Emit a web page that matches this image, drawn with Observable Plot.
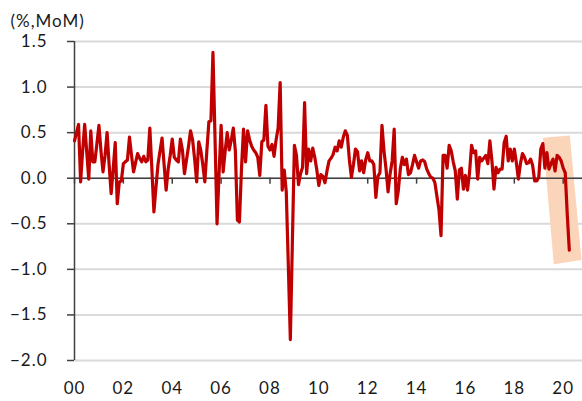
<!DOCTYPE html>
<html><head><meta charset="utf-8">
<script src="https://cdn.jsdelivr.net/npm/d3@7"></script>
<script src="https://cdn.jsdelivr.net/npm/@observablehq/plot@0.6"></script>
<style>
html,body{margin:0;padding:0;background:#fff;}
#chart{width:582px;height:401px;}
svg{display:block}
</style></head><body><div id="chart"></div>
<script>
const startYear = 2000;
// monthly % change, Jan 2000 .. Apr 2020
const cpiMoM = [
  0.41, 0.50, 0.59, -0.04, 0.30, 0.59, 0.29, -0.01, 0.52, 0.18, 0.18, 0.38,
  0.58, 0.30, 0.07, 0.25, 0.50, 0.15, -0.17, 0.10, 0.39, -0.28, -0.04, -0.03,
  0.16, 0.18, 0.20, 0.45, 0.25, 0.07, 0.17, 0.27, 0.22, 0.18, 0.24, 0.18,
  0.20, 0.55, 0.10, -0.37, -0.10, 0.15, 0.30, 0.44, 0.15, -0.13, 0.10, 0.25,
  0.43, 0.23, 0.20, 0.18, 0.43, 0.31, 0.05, 0.20, 0.35, 0.52, 0.42, 0.21,
  -0.04, 0.40, 0.31, 0.15, -0.04, 0.30, 0.62, 0.63, 1.38, 0.45, -0.50, 0.05,
  0.58, 0.07, 0.30, 0.50, 0.31, 0.42, 0.55, 0.30, -0.46, -0.48, 0.10, 0.54,
  0.18, 0.52, 0.42, 0.35, 0.31, 0.28, 0.23, 0.03, 0.40, 0.42, 0.80, 0.35,
  0.31, 0.37, 0.24, 0.42, 0.55, 1.05, -0.13, 0.09, -0.15, -0.95, -1.77, -0.70,
  0.36, 0.25, -0.07, 0.05, 0.12, 0.83, 0.05, 0.32, 0.19, 0.33, 0.23, 0.09,
  -0.08, 0.04, 0.02, -0.05, 0.08, 0.19, 0.22, 0.26, 0.34, 0.30, 0.41, 0.34,
  0.45, 0.52, 0.47, 0.20, 0.01, 0.15, 0.32, 0.29, 0.08, 0.19, 0.06, 0.20,
  0.28, 0.19, 0.19, 0.15, -0.21, 0.02, 0.06, 0.58, 0.30, 0.10, -0.15, 0.05,
  0.19, 0.54, -0.28, -0.14, 0.10, 0.23, 0.15, 0.21, 0.04, 0.06, 0.15, 0.25,
  0.18, 0.11, 0.19, 0.20, 0.18, 0.10, 0.05, 0.01, 0.00, -0.05, -0.20, -0.35,
  -0.63, 0.25, 0.25, 0.11, 0.36, 0.30, 0.18, 0.08, -0.23, 0.09, 0.11, -0.12,
  0.03, -0.13, 0.06, 0.36, 0.28, 0.30, -0.01, 0.23, 0.19, 0.22, 0.25, 0.16,
  0.41, 0.19, -0.12, 0.12, 0.06, 0.10, 0.10, 0.39, 0.46, 0.19, 0.32, 0.19,
  0.32, 0.17, -0.01, 0.16, 0.27, 0.23, 0.16, 0.17, 0.21, 0.14, -0.03, -0.03,
  0.01, 0.32, 0.38, 0.11, 0.28, 0.10, 0.16, 0.21, 0.08, 0.25, 0.23, 0.19,
  0.11, 0.06, -0.40, -0.79
];
const xTickYears = [2000, 2002, 2004, 2006, 2008, 2010, 2012, 2014, 2016, 2018, 2020];
const xTickLabels = ["00", "02", "04", "06", "08", "10", "12", "14", "16", "18", "20"];
const yTicks = [1.5, 1.0, 0.5, 0.0, -0.5, -1.0, -1.5, -2.0];
const yTickLabels = ["1.5", "1.0", "0.5", "0.0", "\u22120.5", "\u22121.0", "\u22121.5", "\u22122.0"];
const unitLabel = "(%,MoM)";
// highlight box corners (decimal year, value)
const highlightT = [2019.165, 2020.27, 2020.75, 2019.615];
const highlightV = [0.445, 0.47, -0.897, -0.944];

const series = cpiMoM.map((v, i) => ({t: startYear + i / 12, v}));
const highlight = highlightT.map((t, i) => ({t, v: highlightV[i]}));
const font = "Lato, 'Open Sans', sans-serif";
const axisColor = "#404040";
const textColor = "#1a1a1a";

const chart = Plot.plot({
  width: 582, height: 401,
  marginLeft: 74, marginRight: 0, marginTop: 41, marginBottom: 41,
  x: {domain: [2000, 2020.79], axis: null},
  y: {domain: [-2, 1.5], axis: null},
  style: {fontFamily: font, fontSize: "17px", color: textColor, background: "#fff", letterSpacing: "1px"},
  marks: [
    Plot.ruleY(yTicks, {stroke: "#dadada", strokeWidth: 2}),
    Plot.line(highlight, {x: "t", y: "v", fill: "#fbd5b9", stroke: "none"}),
    Plot.ruleY([0], {stroke: axisColor, strokeWidth: 1.5}),
    Plot.ruleX(xTickYears, {y1: 0, y2: -0.065, stroke: axisColor, strokeWidth: 1.5}),
    Plot.ruleX([startYear], {stroke: axisColor, strokeWidth: 1.5}),
    Plot.ruleY(yTicks, {x1: 2000 - 7 / 24.435, x2: 2000, stroke: axisColor, strokeWidth: 1.5}),
    Plot.line(series, {x: "t", y: "v", stroke: "#c00000", strokeWidth: 3.2, strokeLinejoin: "round"}),
    Plot.text(yTicks, {x: 2000, y: d => d, text: (d, i) => yTickLabels[i], textAnchor: "end", dx: -27, fontSize: 17, fontFamily: font, fill: textColor}),
    Plot.text(xTickYears, {x: d => d, y: () => -2, text: (d, i) => xTickLabels[i], dy: 28, fontSize: 17, fontFamily: font, fill: textColor}),
    Plot.text([unitLabel], {frameAnchor: "top-left", text: d => d, textAnchor: "start", dx: -64, dy: -27, fontSize: 17, fontFamily: font, fill: textColor})
  ]
});
document.getElementById("chart").appendChild(chart);
</script>
</body></html>
